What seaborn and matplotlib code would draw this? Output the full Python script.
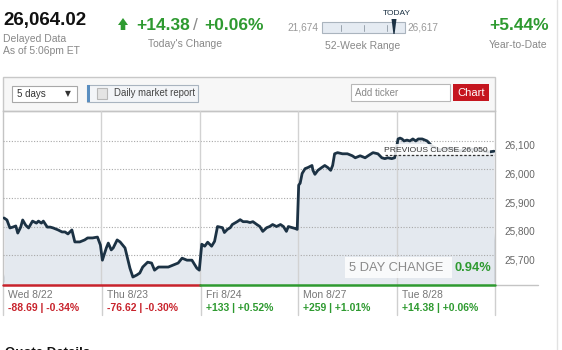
import numpy as np
import pandas as pd
import matplotlib
matplotlib.use("Agg")
import matplotlib.pyplot as plt
import seaborn as sns
from matplotlib.lines import Line2D
from matplotlib.patches import Rectangle, Polygon

# ---------------- data ----------------
days = ["Wed 8/22", "Thu 8/23", "Fri 8/24", "Mon 8/27", "Tue 8/28"]
day_change = ["-88.69 | -0.34%", "-76.62 | -0.30%", "+133 | +0.52%", "+259 | +1.01%", "+14.38 | +0.06%"]
day_up = [False, False, True, True, True]

# intraday samples: fraction of the session, index level
wed_t = [0.01, 0.04, 0.07, 0.10, 0.13, 0.15, 0.18, 0.20, 0.23, 0.26, 0.30, 0.34, 0.36, 0.39, 0.41,
         0.45, 0.48, 0.51, 0.56, 0.60, 0.63, 0.66, 0.70, 0.73, 0.78, 0.83, 0.86, 0.91, 0.96, 0.99]
wed_p = [25830, 25823, 25795, 25798, 25802, 25777, 25798, 25823, 25805, 25795, 25819, 25812, 25819, 25812, 25819,
         25798, 25798, 25795, 25788, 25781, 25781, 25774, 25788, 25746, 25746, 25753, 25760, 25760, 25763, 25735]
thu_t = [0.01, 0.05, 0.07, 0.10, 0.12, 0.16, 0.19, 0.24, 0.27, 0.29, 0.32, 0.36, 0.39, 0.42, 0.47,
         0.51, 0.54, 0.58, 0.62, 0.68, 0.73, 0.78, 0.82, 0.87, 0.92, 0.97, 0.995]
thu_p = [25682, 25725, 25742, 25718, 25725, 25753, 25746, 25725, 25682, 25654, 25623, 25630, 25637, 25658, 25675,
         25672, 25647, 25658, 25658, 25658, 25665, 25672, 25689, 25682, 25682, 25654, 25647]
fri_t = [0.02, 0.05, 0.08, 0.12, 0.15, 0.18, 0.23, 0.25, 0.28, 0.31, 0.33, 0.38, 0.41, 0.44, 0.48, 0.51,
         0.54, 0.58, 0.61, 0.64, 0.68, 0.71, 0.74, 0.78, 0.82, 0.85, 0.88, 0.90, 0.94, 0.97, 0.99]
fri_p = [25738, 25731, 25745, 25731, 25748, 25800, 25796, 25779, 25790, 25796, 25807, 25817, 25824, 25817, 25817, 25814,
         25817, 25807, 25800, 25783, 25796, 25800, 25807, 25800, 25807, 25800, 25783, 25800, 25796, 25793, 25790]
mon_t = [0.005, 0.02, 0.04, 0.07, 0.10, 0.14, 0.15, 0.17, 0.20, 0.24, 0.27, 0.30, 0.33, 0.35, 0.37,
         0.40, 0.45, 0.50, 0.55, 0.58, 0.63, 0.68, 0.71, 0.76, 0.81, 0.85, 0.88, 0.91, 0.95, 0.98]
mon_p = [25945, 25952, 25986, 26003, 26007, 26014, 25997, 25983, 25997, 26007, 26014, 26007, 25997, 26014, 26055,
         26059, 26055, 26055, 26048, 26041, 26048, 26041, 26048, 26059, 26055, 26041, 26038, 26041, 26038, 26041]
tue_t = [0.015, 0.035, 0.055, 0.075, 0.105, 0.135, 0.165, 0.195, 0.22, 0.26, 0.29, 0.31,
         0.36, 0.44, 0.54, 0.64, 0.75, 0.85, 0.93, 0.99]
tue_p = [26107, 26110, 26107, 26100, 26103, 26100, 26107, 26100, 26107, 26107, 26103, 26100,
         26082, 26068, 26075, 26065, 26072, 26068, 26061, 26064]

# volume (relative units) at fractional day positions
vol_t = [0.00, 0.02, 0.20, 0.50, 0.80, 0.97, 0.995, 1.00, 1.01, 1.30, 1.58, 1.60, 1.62, 1.95, 1.99, 2.00, 2.01,
         2.30, 2.60, 2.94, 2.975, 2.99, 3.01, 3.30, 3.60, 3.90, 3.975, 3.99, 4.01, 4.30, 4.60, 4.90, 4.97, 5.00]
vol_v = [10, 4, 3, 3, 3, 4, 10, 23, 5, 3, 3, 8, 3, 5, 20, 57, 8,
         3, 3, 5, 15, 25, 6, 3, 3, 5, 20, 55, 6, 3, 3, 6, 30, 55]

y_ticks = [25700, 25800, 25900, 26000, 26100]
prev_close = 26050
five_day_change = "0.94%"

# ---------------- styling ----------------
sns.set_theme(style="white")
plt.rcParams['font.family'] = ['Liberation Sans', 'DejaVu Sans']

W, H = 562, 350
fig = plt.figure(figsize=(W / 100, H / 100), dpi=100)
fig.patch.set_facecolor("white")

GREEN = "#2e9a30"
RED = "#c8232c"
GREY = "#888888"
NAVY = "#1c3244"


def fx(x):
    return x / W


def fy(y):
    return 1 - y / H


def rect(x1, y1, x2, y2, **kw):
    r = Rectangle((fx(x1), fy(y2)), (x2 - x1) / W, (y2 - y1) / H, transform=fig.transFigure, **kw)
    fig.add_artist(r)
    return r


def line(x1, y1, x2, y2, **kw):
    fig.add_artist(Line2D([fx(x1), fx(x2)], [fy(y1), fy(y2)], transform=fig.transFigure, **kw))


def txt(x, y, s, **kw):
    kw.setdefault("va", "center")
    return fig.text(fx(x), fy(y), s, **kw)


# ---------------- main plot ----------------
ax = fig.add_axes([fx(3), fy(285), (495 - 3) / W, (285 - 111) / H])
YMIN, YMAX = 25595, 26205

frames = []
for i, (t, p) in enumerate([(wed_t, wed_p), (thu_t, thu_p), (fri_t, fri_p), (mon_t, mon_p), (tue_t, tue_p)]):
    frames.append(pd.DataFrame({"x": np.array(t) + i, "price": p}))
df = pd.concat(frames, ignore_index=True)

ax.fill_between(df["x"], df["price"], YMIN, color="#e4e9ef", zorder=1, lw=0)

# volume on a twin axis
axv = ax.twinx()
axv.fill_between(vol_t, vol_v, 0, color="#c3cad3", lw=0, zorder=2)
axv.set_ylim(-3, 174)
axv.set_axis_off()

sns.lineplot(data=df, x="x", y="price", ax=ax, color=NAVY, lw=2.0, zorder=5, legend=False)

ax.set_xlim(0, 5)
ax.set_ylim(YMIN, YMAX)
ax.set_xlabel("")
ax.set_ylabel("")
ax.set_xticks([])
ax.set_yticks(y_ticks)
ax.set_yticklabels([f"{v:,}" for v in y_ticks])
ax.yaxis.tick_right()
ax.tick_params(axis="y", length=0, pad=7, labelsize=7.2, labelcolor="#666666")
for lab in ax.get_yticklabels():
    lab.set_va("top")
ax.grid(axis="y", linestyle=(0, (1, 1.5)), color="#a8a8a8", lw=0.8)
ax.set_axisbelow(False)
for xv in [1, 2, 3, 4]:
    ax.axvline(xv, color="#d2d2d2", lw=1, zorder=3)
for s in ["top", "left", "right"]:
    ax.spines[s].set_color("#c4c4c4")
    ax.spines[s].set_linewidth(1)
ax.spines["bottom"].set_visible(False)
ax.set_facecolor("white")
ax.set_zorder(2)
axv.set_zorder(1)
ax.patch.set_visible(False)

# baseline red / green
ax.plot([0, 2], [YMIN, YMIN], color=RED, lw=1.8, clip_on=False, zorder=6)
ax.plot([2, 5], [YMIN, YMIN], color=GREEN, lw=1.8, clip_on=False, zorder=6)

# previous close
ax.hlines(prev_close, 3.88, 5, colors="#333333", linestyles=(0, (2, 1.5)), lw=0.9, zorder=7)
ax.text(3.875, prev_close + 8, f"PREVIOUS CLOSE {prev_close:,}", fontsize=6.1, color="#333333",
        va="bottom", ha="left", zorder=6,
        bbox=dict(boxstyle="square,pad=0.2", fc="white", ec="none", alpha=0.85))

# 5 day change box
ax.text(3.52, 25656, "5 DAY CHANGE ", fontsize=9.3, color="#8a8a8a", va="center", ha="left", zorder=8,
        bbox=dict(boxstyle="square,pad=0.35", fc="white", ec="none", alpha=0.8))
ax.text(4.96, 25656, five_day_change, fontsize=9.3, color=GREEN, fontweight="bold", va="center", ha="right", zorder=9)

# grey continuation of baseline
line(495, 285, 538, 285, color="#c4c4c4", lw=1)

# bottom day labels
sep_x = [3, 102, 201, 298, 397, 495]
for xs in sep_x:
    line(xs, 285, xs, 315, color="#cfcfcf", lw=1)
for i, (d, c, up) in enumerate(zip(days, day_change, day_up)):
    x0 = sep_x[i] + 5
    txt(x0, 295, d, fontsize=7.5, color="#777777")
    txt(x0, 308, c, fontsize=7.5, color=GREEN if up else RED, fontweight="bold")

# ---------------- toolbar ----------------
rect(3, 77, 495, 111, facecolor="#f7f7f7", edgecolor="#c8c8c8", lw=1, zorder=0)
rect(12, 86, 77, 102, facecolor="white", edgecolor="#a8a8a8", lw=0.8)
txt(17, 94, "5 days", fontsize=7, color="#333333")
txt(65, 94, "▼", fontsize=5.5, color="#333333", family="DejaVu Sans")
rect(87, 85, 198, 102, facecolor="#f3f5f8", edgecolor="#a9b4c0", lw=0.8)
rect(87, 85, 90, 102, facecolor="#5a8ec0", edgecolor="none")
rect(97, 88, 107, 99, facecolor="#e4e4e4", edgecolor="#b8b8b8", lw=0.8)
txt(114, 93.5, "Daily market report", fontsize=6.9, color="#444444")
rect(351, 84, 450, 101, facecolor="white", edgecolor="#b8b8b8", lw=0.8)
txt(355, 92.5, "Add ticker", fontsize=7, color="#888888")
rect(453, 84, 489, 101, facecolor="#c5161f", edgecolor="none")
txt(471, 92.5, "Chart", fontsize=8, color="white", ha="center")

# ---------------- header ----------------
txt(3, 21, "26,064.02", fontsize=13.5, fontweight="bold", color="#111111")
txt(3, 39, "Delayed Data", fontsize=7.5, color=GREY)
txt(3, 51, "As of 5:06pm ET", fontsize=7.5, color=GREY)

arrow = [(118, 25), (123, 18), (128, 25), (125.3, 25), (125.3, 30), (120.7, 30), (120.7, 25)]
fig.add_artist(Polygon([(fx(a), fy(b)) for a, b in arrow], closed=True, transform=fig.transFigure,
                       facecolor=GREEN, edgecolor="none"))
txt(136, 25, "+14.38", fontsize=12.5, fontweight="bold", color=GREEN)
txt(193, 25, "/", fontsize=12.5, color="#8a8a8a")
txt(204, 25, "+0.06%", fontsize=12.5, fontweight="bold", color=GREEN)
txt(148, 44, "Today's Change", fontsize=7.5, color=GREY)

txt(287, 27, "21,674", fontsize=7.3, color="#999999")
rect(322, 22, 405, 33, facecolor="#e5ebf2", edgecolor="#aab4be", lw=0.8)
for tx in [341, 364, 387]:
    line(tx, 24.5, tx, 30.5, color="#9aa4ae", lw=0.7)
needle = [(391.5, 19), (396.5, 19), (394.6, 34), (393.4, 34)]
fig.add_artist(Polygon([(fx(a), fy(b)) for a, b in needle], closed=True, transform=fig.transFigure,
                       facecolor=NAVY, edgecolor="none"))
txt(397, 13.5, "TODAY", fontsize=6, color=NAVY, ha="center")
txt(407, 27, "26,617", fontsize=7.3, color="#999999")
txt(363, 46, "52-Week Range", fontsize=7.5, color=GREY, ha="center")

txt(489, 26, "+5.44%", fontsize=12.5, fontweight="bold", color=GREEN)
txt(489, 45, "Year-to-Date", fontsize=7.5, color=GREY)

line(557, 0, 557, 350, color="#e2e2e2", lw=1)

fig.text(fx(5), fy(356), "Quote Details", fontsize=9.5, fontweight="bold", color="#111111", va="baseline")

fig.savefig("out.png", dpi=100, facecolor="white")
